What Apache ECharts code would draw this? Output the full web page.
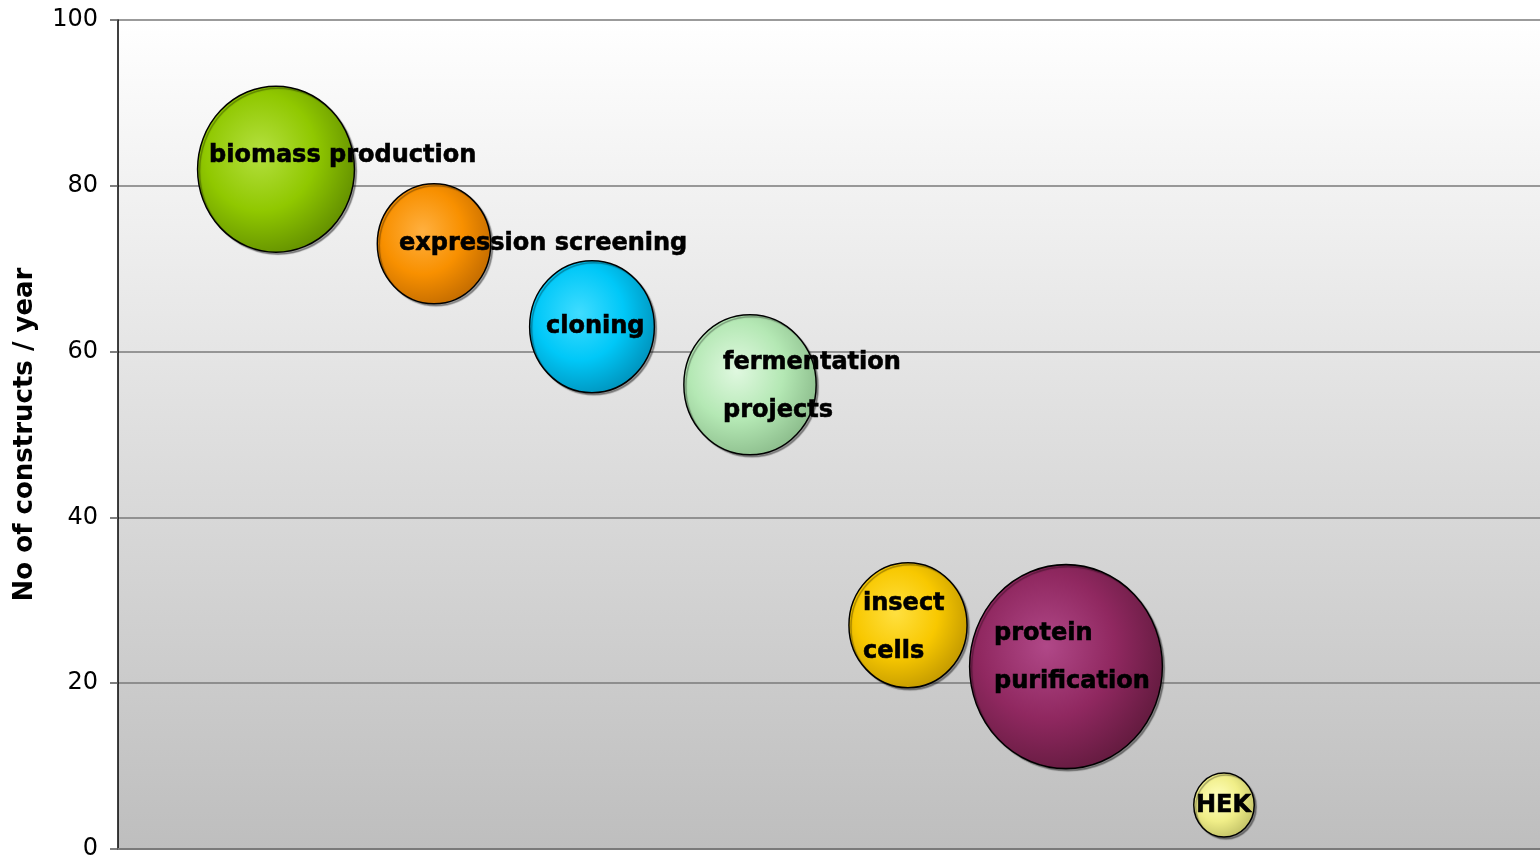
<!DOCTYPE html>
<html>
<head>
<meta charset="utf-8">
<script src="https://cdn.jsdelivr.net/npm/echarts@6/dist/echarts.min.js"></script>
<style>
html,body{margin:0;padding:0;background:#fff;}
#chart{width:1540px;height:865px;}
</style>
</head>
<body>
<div id="chart"></div>
<script>
// ---- data ----
const labels = ["biomass production", "expression screening", "cloning", "fermentation\nprojects", "insect\ncells", "protein\npurification", "HEK"];
const xValues = [1, 2, 3, 4, 5, 6, 7];
const yValues = [82, 73, 63, 56, 27, 22, 5.3];
const bubbleSizes = [166, 120, 132, 140, 125, 204, 64];
const yTicks = [0, 20, 40, 60, 80, 100];
const yAxisTitle = "No of constructs / year";

// ---- styling ----
const bubbleColors = [
  ["#b4e040", "#90c800", "#5a8400"],
  ["#ffb040", "#f89000", "#b86400"],
  ["#40dcff", "#00c8f8", "#0088b0"],
  ["#e0f8e0", "#b4e8b4", "#84b484"],
  ["#ffe040", "#f8c800", "#b89000"],
  ["#b04888", "#902860", "#5a1838"],
  ["#ffffc0", "#f0ee88", "#b8b860"]
];
const labelOffsets = [[-67, -13], [-35, 0], [-46, 0], [-27, 2], [-45, 3], [-72, -9], [-28, 1]];

const data = labels.map((n, i) => ({
  name: n,
  value: [xValues[i], yValues[i], bubbleSizes[i]],
  itemStyle: {
    color: {
      type: 'radial', x: 0.4, y: 0.4, r: 0.7,
      colorStops: [
        {offset: 0, color: bubbleColors[i][0]},
        {offset: 0.5, color: bubbleColors[i][1]},
        {offset: 1, color: bubbleColors[i][2]}
      ]
    }
  },
  label: {offset: labelOffsets[i]}
}));

const chart = echarts.init(document.getElementById('chart'), null, {renderer: 'canvas'});
chart.setOption({
  animation: false,
  grid: {
    left: 118, right: 0, top: 20, bottom: 16,
    containLabel: false,
    outerBoundsMode: 'none',
    show: true, borderWidth: 0,
    backgroundColor: {
      type: 'linear', x: 0, y: 0, x2: 0, y2: 1,
      colorStops: [
        {offset: 0, color: '#ffffff'},
        {offset: 1, color: '#bebebe'}
      ]
    }
  },
  xAxis: {
    type: 'value', min: 0, max: 9, interval: 1,
    axisLine: {show: true, lineStyle: {color: '#7a7a7a', width: 2}},
    axisTick: {show: false},
    axisLabel: {show: false},
    splitLine: {show: false}
  },
  yAxis: {
    type: 'value', min: yTicks[0], max: yTicks[yTicks.length - 1], interval: 20,
    name: yAxisTitle,
    nameLocation: 'middle',
    nameGap: 80,
    nameRotate: 90,
    nameTextStyle: {fontFamily: 'DejaVu Sans', fontWeight: 'bold', fontSize: 26, color: '#000'},
    axisLine: {show: true, lineStyle: {color: '#000', width: 1.5}},
    axisTick: {show: true, inside: false, length: 8, lineStyle: {color: '#555', width: 1.5}},
    axisLabel: {fontFamily: 'DejaVu Sans', fontSize: 24, color: '#000', margin: 20},
    splitLine: {show: true, lineStyle: {color: '#7a7a7a', width: 1.5}}
  },
  series: [{
    type: 'scatter',
    data: data,
    symbol: 'circle',
    symbolSize: v => [v[2] * 0.945, v[2]],
    itemStyle: {
      opacity: 1,
      borderColor: '#000', borderWidth: 1.5,
      shadowColor: 'rgba(0,0,0,0.35)', shadowOffsetX: 2, shadowOffsetY: 2, shadowBlur: 1
    },
    label: {
      show: true,
      position: 'inside',
      align: 'left',
      verticalAlign: 'middle',
      formatter: p => p.name,
      fontFamily: 'DejaVu Sans',
      fontWeight: 'bold',
      fontSize: 24,
      lineHeight: 48,
      color: '#000',
      opacity: 1,
      textBorderColor: '#000',
      textBorderWidth: 0.6
    },
    emphasis: {disabled: true}
  }]
});
</script>
</body>
</html>
